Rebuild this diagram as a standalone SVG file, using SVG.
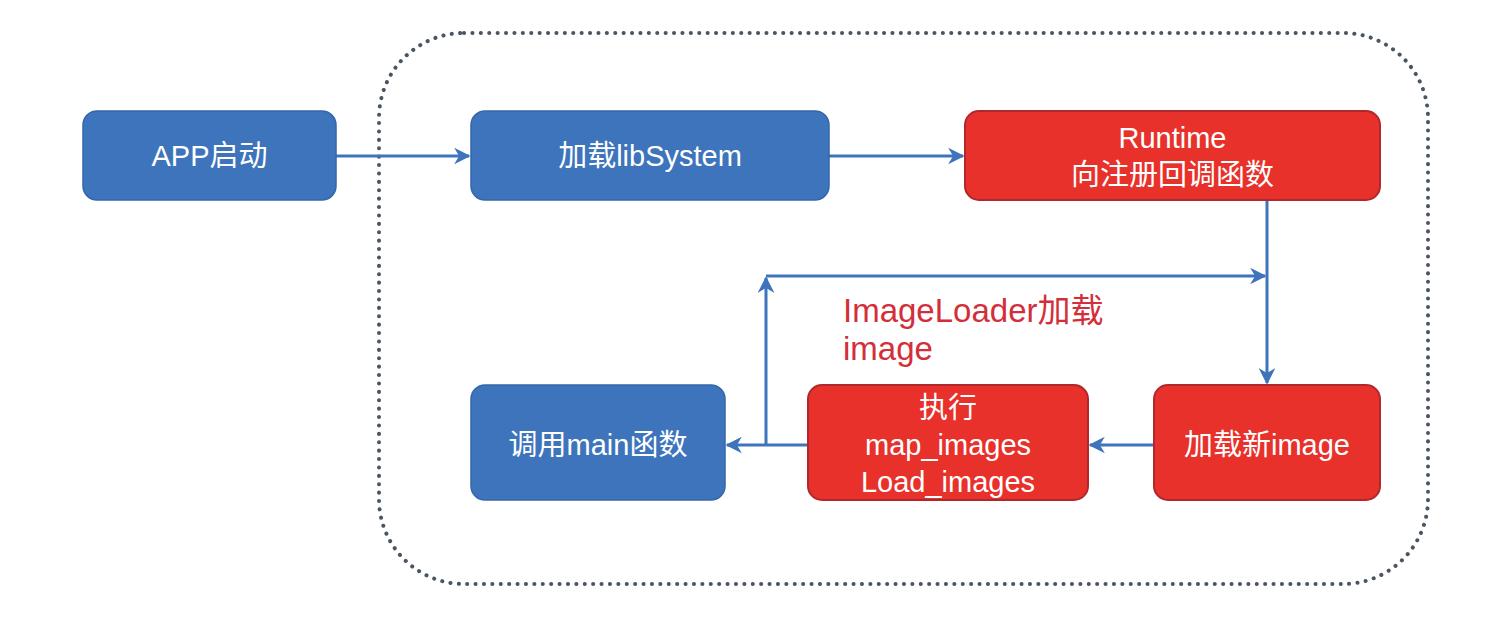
<svg xmlns="http://www.w3.org/2000/svg" width="1500" height="618" viewBox="0 0 1500 618">
<defs>
<style>
.blue{fill:#3D74BC;stroke:#3567AA;stroke-width:1.5}
.red{fill:#E8312A;stroke:#B0282C;stroke-width:2}
.t{font-family:"Liberation Sans","Noto Sans CJK SC",sans-serif;font-size:29px;fill:#FFFFFF;text-anchor:middle}
.c{fill:none;stroke:#3D74BC;stroke-width:3}
.lbl{font-family:"Liberation Sans","Noto Sans CJK SC",sans-serif;font-size:33px;fill:#D32F3A}
</style>
<marker id="ah" viewBox="0 0 10 10" refX="9" refY="5" markerWidth="5.5" markerHeight="5.5" orient="auto" markerUnits="strokeWidth">
<path d="M0,0 L10,5 L0,10 L3,5 z" fill="#3D74BC"/>
</marker>
</defs>
<rect width="1500" height="618" fill="#FFFFFF"/>
<rect id="container" x="379" y="33" width="1049" height="551" rx="85" ry="85" fill="none" stroke="#4A5560" stroke-width="4" stroke-dasharray="0.1 8.3" stroke-linecap="round"/>
<g id="connectors">
<path class="c" d="M336,156 L469,156" marker-end="url(#ah)"/>
<path class="c" d="M829,156 L963,156" marker-end="url(#ah)"/>
<path class="c" d="M1267,200 L1267,383" marker-end="url(#ah)"/>
<path class="c" d="M1154,445 L1090,445" marker-end="url(#ah)"/>
<path class="c" d="M808,445 L727,445" marker-end="url(#ah)"/>
<path class="c" d="M766,445 L766,278" marker-end="url(#ah)"/>
<path class="c" d="M766,276 L1265,276" marker-end="url(#ah)"/>
</g>
<text id="label" class="lbl"><tspan x="843" y="322">ImageLoader加载</tspan><tspan x="843" y="360">image</tspan></text>
<g id="app">
<rect class="blue" x="83" y="111" width="253" height="89" rx="14"/>
<text class="t" x="209.5" y="166">APP启动</text>
</g>
<g id="libsystem">
<rect class="blue" x="471" y="111" width="358" height="89" rx="14"/>
<text class="t" x="650" y="166">加载libSystem</text>
</g>
<g id="runtime">
<rect class="red" x="965" y="111" width="415" height="89" rx="14"/>
<text class="t" x="1172.5" y="148">Runtime</text>
<text class="t" x="1172.5" y="185">向注册回调函数</text>
</g>
<g id="main">
<rect class="blue" x="471" y="385" width="254" height="115" rx="14"/>
<text class="t" x="598" y="455">调用main函数</text>
</g>
<g id="exec">
<rect class="red" x="808" y="385" width="280" height="115" rx="14"/>
<text class="t" x="948" y="418">执行</text>
<text class="t" x="948" y="455">map_images</text>
<text class="t" x="948" y="492">Load_images</text>
</g>
<g id="newimage">
<rect class="red" x="1154" y="385" width="226" height="115" rx="14"/>
<text class="t" x="1267" y="455">加载新image</text>
</g>
</svg>
